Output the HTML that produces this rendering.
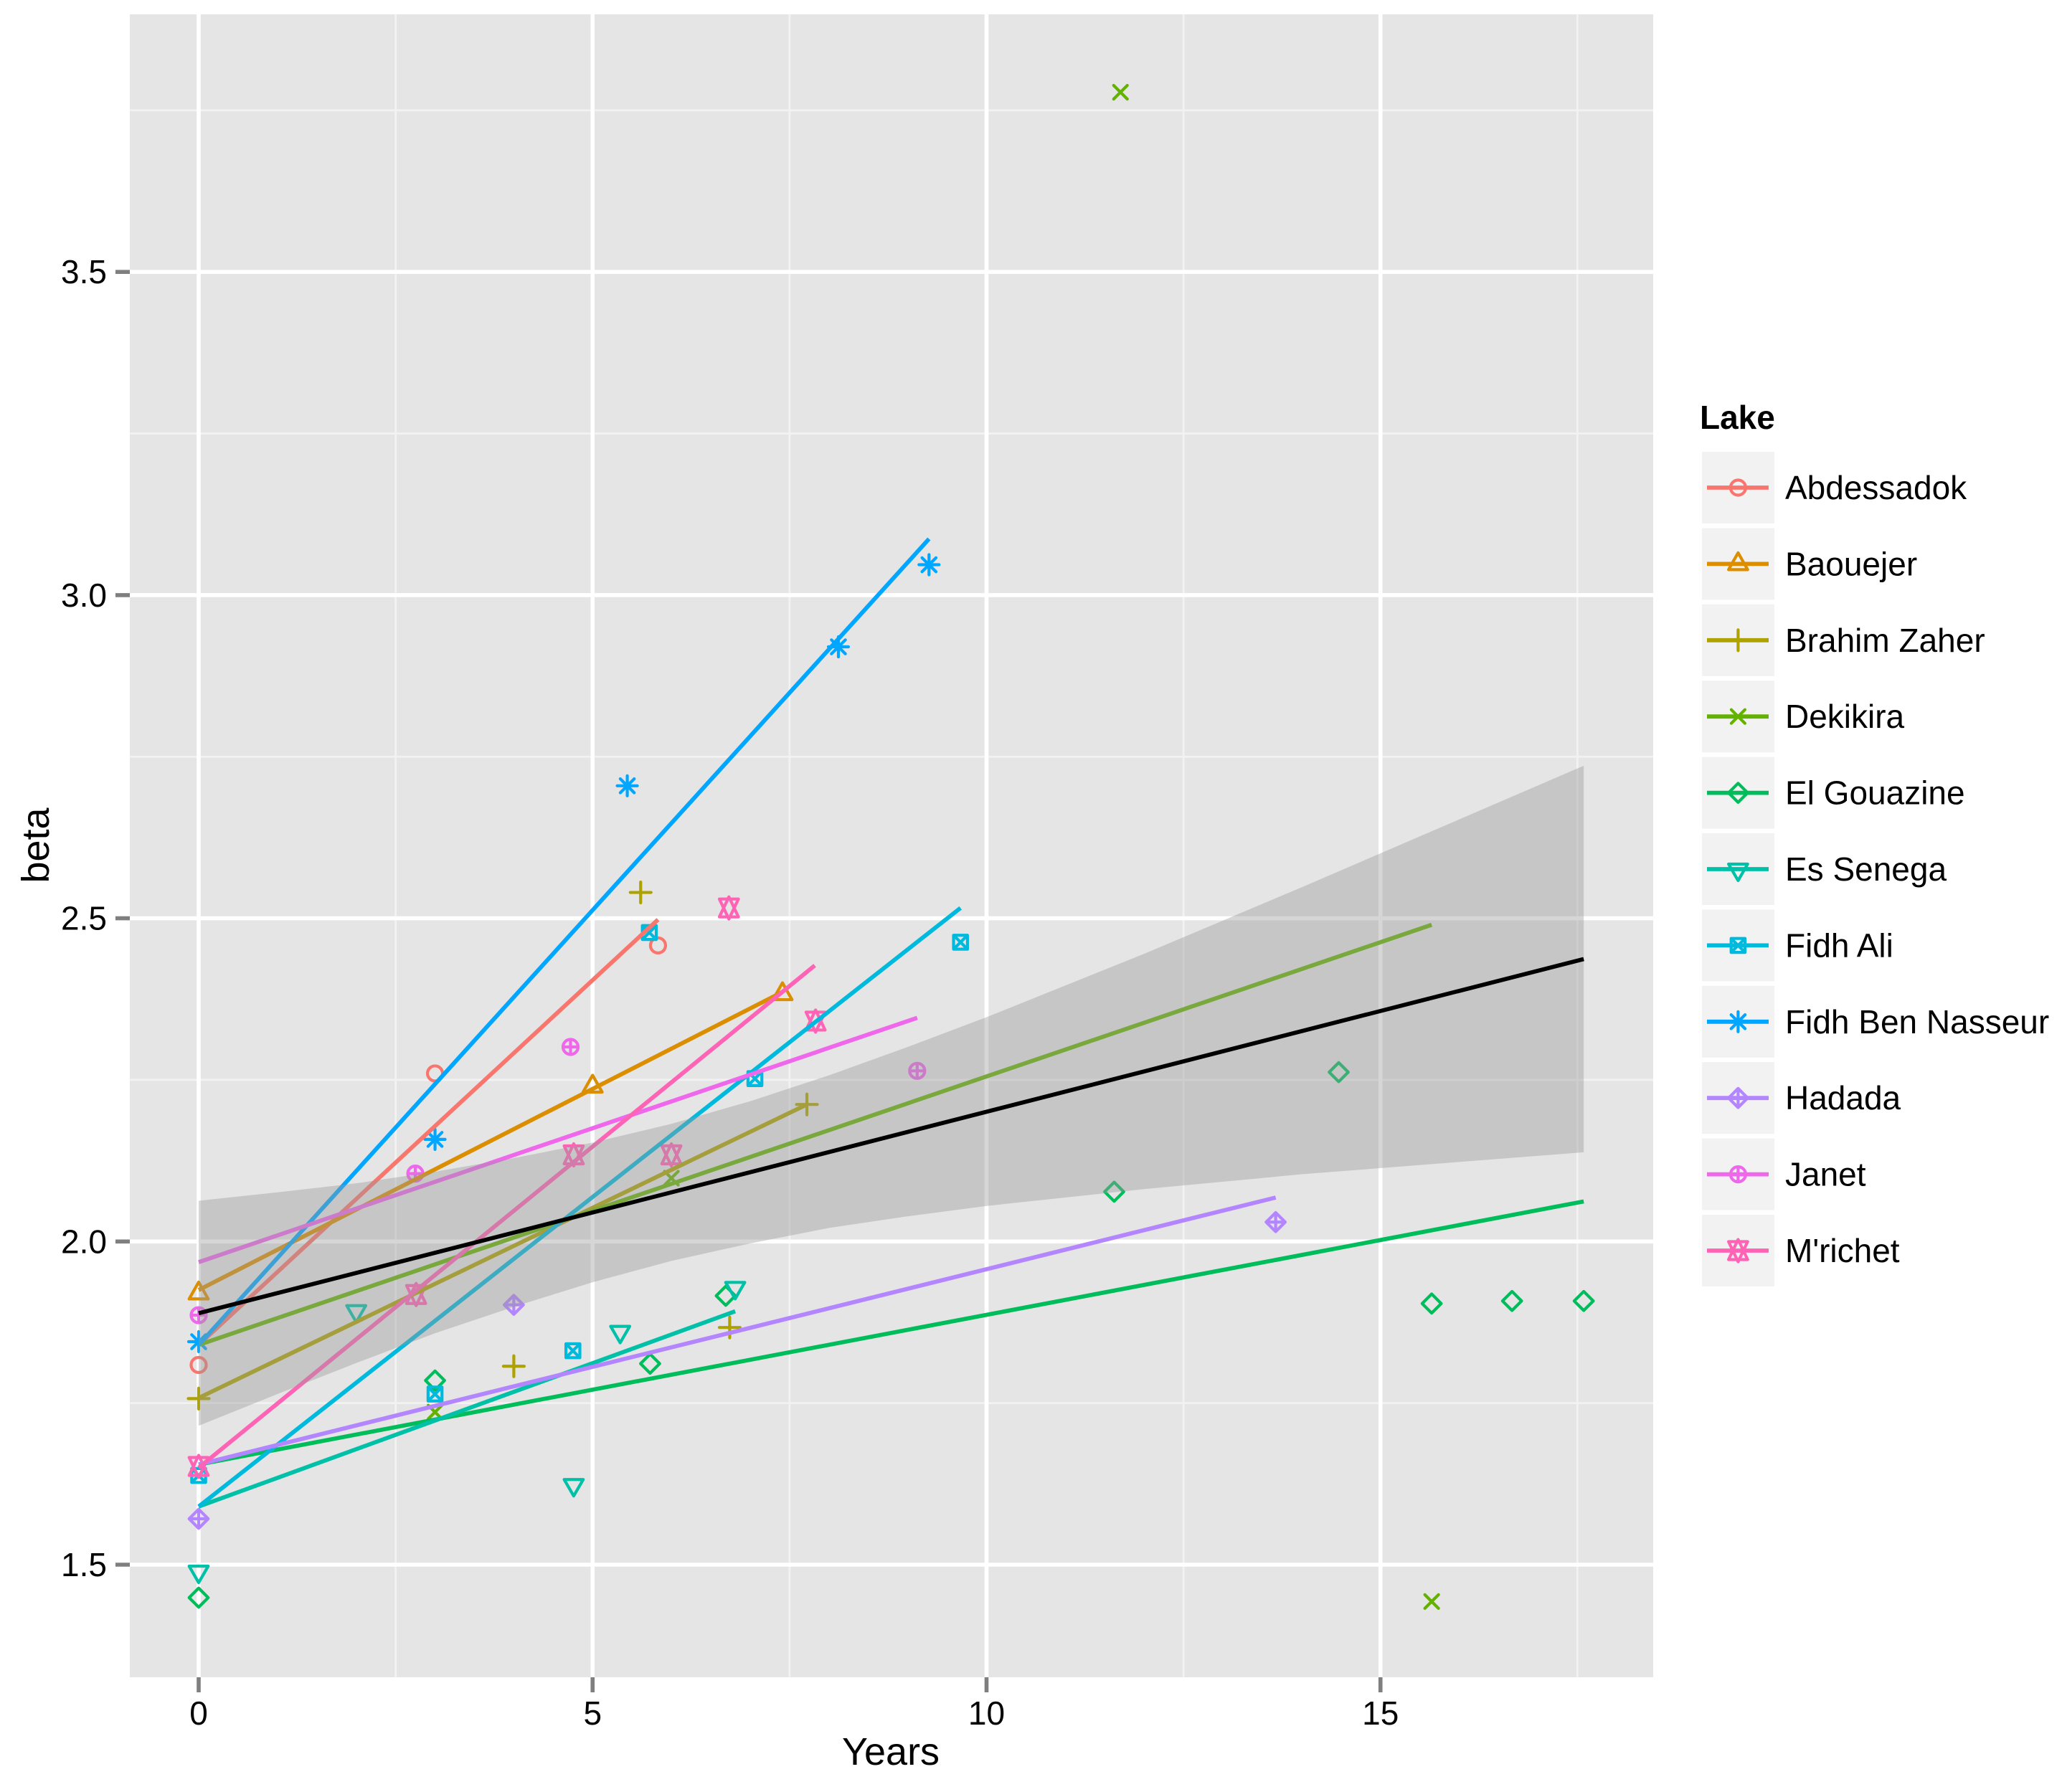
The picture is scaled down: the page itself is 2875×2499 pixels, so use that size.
<!DOCTYPE html>
<html lang="en">
<head>
<meta charset="utf-8">
<title>Lake beta versus years</title>
<style>
  html, body { margin: 0; padding: 0; background: #ffffff; }
  svg { display: block; font-family: "Liberation Sans", Arial, sans-serif; }
</style>
</head>
<body>
<svg id="chart" xmlns="http://www.w3.org/2000/svg" width="2875" height="2499" viewBox="0 0 2875 2499">
  <rect x="0" y="0" width="2875" height="2499" fill="#ffffff"></rect>
  <rect x="181" y="20" width="2124" height="2319" fill="#E5E5E5"></rect>
  <g id="grid"></g>
  <g id="points"></g>
  <g id="fits"></g>
  <g id="overall"></g>
  <g id="axes"></g>
  <text x="1242" y="2461" font-size="54" text-anchor="middle" fill="#000000">Years</text>
  <text transform="translate(68,1179) rotate(-90)" font-size="54" text-anchor="middle" fill="#000000">beta</text>
  <g id="legend">
    <text x="2370" y="598" font-size="46" font-weight="bold" fill="#000000">Lake</text>
  </g>
</svg>
<script>
// Categories and colours
const lakes = ["Abdessadok", "Baouejer", "Brahim Zaher", "Dekikira", "El Gouazine", "Es Senega", "Fidh Ali", "Fidh Ben Nasseur", "Hadada", "Janet", "M'richet"];
const lakeColors = ["#F8766D", "#DB8E00", "#AEA200", "#64B200", "#00BD5C", "#00C1A7", "#00BADE", "#00A6FF", "#B385FF", "#EF67EB", "#FF63B6"];

// Observed points, one pair of arrays per lake
const abdessadokYears = [0, 3, 5.83];
const abdessadokBeta = [1.809, 2.26, 2.458];
const baouejerYears = [0, 5, 7.41];
const baouejerBeta = [1.92, 2.24, 2.383];
const brahimYears = [0, 4, 5.61, 6.74, 7.72];
const brahimBeta = [1.757, 1.807, 2.54, 1.867, 2.212];
const dekikiraYears = [3, 6, 11.7, 15.65];
const dekikiraBeta = [1.736, 2.098, 3.778, 1.443];
const gouazineYears = [0, 3, 5.73, 6.69, 11.62, 14.47, 15.65, 16.67, 17.58];
const gouazineBeta = [1.449, 1.785, 1.811, 1.916, 2.077, 2.262, 1.904, 1.908, 1.908];
const senegaYears = [0, 2, 4.76, 5.35, 6.81];
const senegaBeta = [1.49, 1.893, 1.624, 1.861, 1.929];
const fidhAliYears = [0, 3, 4.75, 5.72, 7.06, 9.67];
const fidhAliBeta = [1.638, 1.764, 1.831, 2.478, 2.252, 2.463];
const nasseurYears = [0, 3, 5.44, 8.12, 9.27];
const nasseurBeta = [1.845, 2.158, 2.705, 2.92, 3.047];
const hadadaYears = [0, 4, 13.67];
const hadadaBeta = [1.571, 1.902, 2.03];
const janetYears = [0, 2.75, 4.72, 9.12];
const janetBeta = [1.886, 2.105, 2.301, 2.264];
const mrichetYears = [0, 2.76, 4.76, 6, 6.73, 7.83];
const mrichetBeta = [1.652, 1.918, 2.134, 2.134, 2.516, 2.341];

const pointYears = [abdessadokYears, baouejerYears, brahimYears, dekikiraYears, gouazineYears, senegaYears, fidhAliYears, nasseurYears, hadadaYears, janetYears, mrichetYears];
const pointBeta = [abdessadokBeta, baouejerBeta, brahimBeta, dekikiraBeta, gouazineBeta, senegaBeta, fidhAliBeta, nasseurBeta, hadadaBeta, janetBeta, mrichetBeta];

// Per-lake fit lines: value at year 0 and value at the last year
const fitStartBeta = [1.84, 1.925, 1.758, 1.84, 1.655, 1.59, 1.59, 1.84, 1.655, 1.968, 1.65];
const fitEndYears = [5.83, 7.41, 7.72, 15.65, 17.58, 6.81, 9.67, 9.27, 13.67, 9.12, 7.82];
const fitEndBeta = [2.498, 2.386, 2.212, 2.49, 2.062, 1.892, 2.516, 3.087, 2.068, 2.346, 2.427];

// Overall fit and confidence band
const overallYears = [0, 17.58];
const overallBeta = [1.889, 2.437];
const ribbonYears = [0, 1, 2, 3, 4, 5, 6, 7, 8, 9, 10, 12, 14, 16, 17.58];
const ribbonUpper = [2.063, 2.076, 2.09, 2.108, 2.129, 2.153, 2.182, 2.217, 2.257, 2.301, 2.347, 2.445, 2.548, 2.653, 2.736];
const ribbonLower = [1.715, 1.764, 1.812, 1.858, 1.899, 1.937, 1.97, 1.997, 2.021, 2.039, 2.055, 2.081, 2.104, 2.123, 2.138];

// Axis ticks
const xMajorTicks = [0, 5, 10, 15];
const xTickLabels = ["0", "5", "10", "15"];
const xMinorTicks = [2.5, 7.5, 12.5, 17.5];
const yMajorTicks = [1.5, 2, 2.5, 3, 3.5];
const yTickLabels = ["1.5", "2.0", "2.5", "3.0", "3.5"];
const yMinorTicks = [1.75, 2.25, 2.75, 3.25, 3.75];

function xScale(v) { return 277 + v * 109.85; }
function yScale(v) { return 1731.3 - (v - 2) * 901.4; }

const NS = "http://www.w3.org/2000/svg";
function make(tag, parent) {
  const el = document.createElementNS(NS, tag);
  parent.appendChild(el);
  return el;
}
function slug(name) { return name.toLowerCase().replace(/[^a-z]+/g, "-"); }

// Marker glyph geometry, one shape per lake (R pch 1 to 11)
function circleD(x, y, r) { return "M" + (x - r) + " " + y + "A" + r + " " + r + " 0 1 0 " + (x + r) + " " + y + "A" + r + " " + r + " 0 1 0 " + (x - r) + " " + y + "Z"; }
function plusD(x, y, r) { return "M" + (x - r) + " " + y + "H" + (x + r) + "M" + x + " " + (y - r) + "V" + (y + r); }
function crossD(x, y, r) { return "M" + (x - r) + " " + (y - r) + "L" + (x + r) + " " + (y + r) + "M" + (x - r) + " " + (y + r) + "L" + (x + r) + " " + (y - r); }
function diamondD(x, y, r) { return "M" + (x - r) + " " + y + "L" + x + " " + (y - r) + "L" + (x + r) + " " + y + "L" + x + " " + (y + r) + "Z"; }
function upD(x, y) { return "M" + x + " " + (y - 15.5) + "L" + (x + 13.3) + " " + (y + 8) + "H" + (x - 13.3) + "Z"; }
function downD(x, y) { return "M" + x + " " + (y + 16) + "L" + (x + 13.3) + " " + (y - 7) + "H" + (x - 13.3) + "Z"; }
function squareD(x, y, r) { return "M" + (x - r) + " " + (y - r) + "H" + (x + r) + "V" + (y + r) + "H" + (x - r) + "Z"; }
function hexagramD(x, y) {
  return "M" + x + " " + (y - 15.5) + "L" + (x + 13.3) + " " + (y + 12.5) + "H" + (x - 13.3) + "Z" +
         "M" + x + " " + (y + 15.5) + "L" + (x + 13.3) + " " + (y - 12.5) + "H" + (x - 13.3) + "Z";
}
const markerBuilders = [
  function (x, y) { return circleD(x, y, 10.5); },
  function (x, y) { return upD(x, y); },
  function (x, y) { return plusD(x, y, 14.5); },
  function (x, y) { return crossD(x, y, 9.5); },
  function (x, y) { return diamondD(x, y, 13.3); },
  function (x, y) { return downD(x, y); },
  function (x, y) { return squareD(x, y, 9.7) + crossD(x, y, 9.7); },
  function (x, y) { return plusD(x, y, 14) + crossD(x, y, 9.7); },
  function (x, y) { return diamondD(x, y, 13.3) + plusD(x, y, 13.3); },
  function (x, y) { return circleD(x, y, 10.5) + plusD(x, y, 10.5); },
  function (x, y) { return hexagramD(x, y); }
];

function strokePath(parent, d, color, width, round) {
  const p = make("path", parent);
  p.setAttribute("d", d);
  p.setAttribute("fill", "none");
  p.setAttribute("stroke", color);
  p.setAttribute("stroke-width", width);
  if (round) {
    p.setAttribute("stroke-linejoin", "round");
    p.setAttribute("stroke-linecap", "round");
  }
  return p;
}

// Grid
const gridLayer = document.getElementById("grid");
yMinorTicks.forEach(function (v) {
  const l = strokePath(gridLayer, "M181 " + yScale(v) + "H2305", "#F2F2F2", 2.8, false);
  
  
});
xMinorTicks.forEach(function (v) {
  const l = strokePath(gridLayer, "M" + xScale(v) + " 20V2339", "#F2F2F2", 2.8, false);
  
  
});
yMajorTicks.forEach(function (v) {
  const l = strokePath(gridLayer, "M181 " + yScale(v) + "H2305", "#FFFFFF", 5.6, false);
  
  
});
xMajorTicks.forEach(function (v) {
  const l = strokePath(gridLayer, "M" + xScale(v) + " 20V2339", "#FFFFFF", 5.6, false);
  
  
});

// Points
const pointLayer = document.getElementById("points");
lakes.forEach(function (lake, i) {
  const group = make("g", pointLayer);
  
  
  pointYears[i].forEach(function (yr, k) {
    const d = markerBuilders[i](xScale(yr), yScale(pointBeta[i][k]));
    const m = strokePath(group, d, lakeColors[i], 4.2, true);
    
    
  });
});

// Lake fit lines
const fitLayer = document.getElementById("fits");
lakes.forEach(function (lake, i) {
  const d = "M" + xScale(0) + " " + yScale(fitStartBeta[i]) + "L" + xScale(fitEndYears[i]) + " " + yScale(fitEndBeta[i]);
  const line = strokePath(fitLayer, d, lakeColors[i], 5.8, false);
  
  
});

// Confidence band and overall line
const overallLayer = document.getElementById("overall");
let bandD = "";
ribbonYears.forEach(function (yr, k) {
  bandD += (k === 0 ? "M" : "L") + xScale(yr) + " " + yScale(ribbonUpper[k]);
});
for (let k = ribbonYears.length - 1; k >= 0; k--) {
  bandD += "L" + xScale(ribbonYears[k]) + " " + yScale(ribbonLower[k]);
}
const band = make("path", overallLayer);
band.setAttribute("d", bandD + "Z");
band.setAttribute("fill", "#999999");
band.setAttribute("fill-opacity", "0.4");


const overallD = "M" + xScale(overallYears[0]) + " " + yScale(overallBeta[0]) + "L" + xScale(overallYears[1]) + " " + yScale(overallBeta[1]);
const overallLine = strokePath(overallLayer, overallD, "#000000", 5.8, false);



// Axes
const axisLayer = document.getElementById("axes");
xMajorTicks.forEach(function (v, k) {
  const t = strokePath(axisLayer, "M" + xScale(v) + " 2339V2360", "#7F7F7F", 5.6, false);
  
  
  const label = make("text", axisLayer);
  label.setAttribute("x", xScale(v));
  label.setAttribute("y", 2405);
  label.setAttribute("font-size", 46);
  label.setAttribute("text-anchor", "middle");
  label.setAttribute("fill", "#000000");
  label.textContent = xTickLabels[k];
  
  
});
yMajorTicks.forEach(function (v, k) {
  const t = strokePath(axisLayer, "M161 " + yScale(v) + "H181", "#7F7F7F", 5.6, false);
  
  
  const label = make("text", axisLayer);
  label.setAttribute("x", 149);
  label.setAttribute("y", yScale(v) + 16);
  label.setAttribute("font-size", 46);
  label.setAttribute("text-anchor", "end");
  label.setAttribute("fill", "#000000");
  label.textContent = yTickLabels[k];
  
  
});

// Legend
const legendLayer = document.getElementById("legend");
lakes.forEach(function (lake, i) {
  const top = 630 + i * 106.4;
  const mid = top + 50;
  const entry = make("g", legendLayer);
  
  
  const key = make("rect", entry);
  key.setAttribute("x", 2373);
  key.setAttribute("y", top);
  key.setAttribute("width", 101);
  key.setAttribute("height", 100);
  key.setAttribute("fill", "#F2F2F2");
  
  
  const keyLine = strokePath(entry, "M2380 " + mid + "H2466", lakeColors[i], 5.8, false);
  
  
  const keyMarker = strokePath(entry, markerBuilders[i](2423.4, mid), lakeColors[i], 4.2, true);
  
  
  const label = make("text", entry);
  label.setAttribute("x", 2489);
  label.setAttribute("y", mid + 16);
  label.setAttribute("font-size", 46);
  label.setAttribute("fill", "#000000");
  label.textContent = lake;
  
  
});
</script>
</body>
</html>
